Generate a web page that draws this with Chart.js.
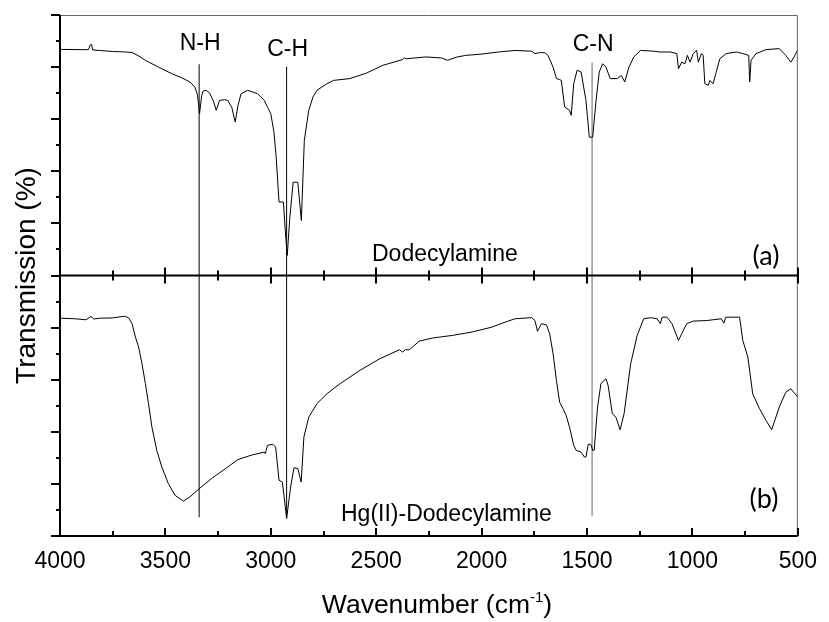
<!DOCTYPE html>
<html>
<head>
<meta charset="utf-8">
<script src="https://cdn.jsdelivr.net/npm/chart.js@4.4.1/dist/chart.umd.min.js"></script>
<style>
  html, body { margin: 0; padding: 0; background: #fff; }
</style>
</head>
<body>
<canvas id="irChart" width="829" height="622"></canvas>
<script>
// (a) Dodecylamine - wavenumber (cm-1) / transmission within the panel (0-100)
const wavenumbersA = [4000, 3900, 3865, 3856, 3850, 3845, 3814, 3750, 3689, 3658, 3625, 3595, 3533, 3470, 3423, 3384,
  3360, 3348, 3338, 3328, 3321, 3306, 3290, 3270, 3259, 3243, 3220, 3204, 3185, 3169, 3155, 3141, 3110, 3063, 3031,
  3015, 3000, 2985, 2975, 2961, 2940, 2932, 2922, 2910, 2894, 2872, 2855, 2841, 2820, 2800, 2781, 2734, 2702, 2624,
  2546, 2468, 2374, 2366, 2358, 2264, 2190, 2162, 2120, 2076, 2000, 1920, 1841, 1763, 1747, 1720, 1700, 1685, 1661,
  1645, 1630, 1622, 1606, 1583, 1575, 1563, 1547, 1528, 1505, 1489, 1473, 1457, 1442, 1426, 1410, 1390, 1356, 1337,
  1321, 1301, 1278, 1246, 1199, 1152, 1105, 1074, 1066, 1051, 1035, 1024, 1011, 996, 980, 972, 957, 949, 941, 925,
  917, 902, 889, 870, 839, 792, 761, 733, 728, 722, 698, 651, 588, 557, 533, 518, 500];
const transmissionA = [86.8, 86.7, 86.7, 88.6, 88.6, 86.6, 86.4, 86.0, 85.8, 85.6, 84.2, 82.6, 80.0, 77.5, 75.9, 74.3,
  72.3, 69.5, 62.1, 69.0, 70.8, 71.1, 70.0, 66.5, 63.4, 67.2, 67.5, 67.2, 64.5, 58.9, 65.5, 69.8, 71.1, 69.8, 67.2,
  64.5, 62.1, 55.0, 46.0, 28.2, 28.2, 18.0, 7.7, 22.0, 35.8, 35.8, 21.1, 51.9, 63.4, 68.5, 71.1, 73.6, 74.9, 75.6,
  77.7, 80.7, 82.9, 83.6, 83.2, 83.9, 83.5, 82.6, 83.8, 84.5, 85.0, 85.8, 86.4, 86.1, 85.2, 85.6, 85.5, 84.5, 80.0,
  75.6, 75.2, 74.9, 64.7, 63.4, 61.5, 73.6, 78.8, 78.1, 67.2, 53.1, 53.1, 67.2, 78.1, 81.3, 80.0, 75.6, 75.6, 76.8,
  74.3, 80.0, 83.9, 86.4, 86.2, 85.8, 85.8, 85.2, 79.4, 81.9, 81.3, 84.5, 81.9, 85.2, 86.4, 81.9, 85.2, 84.5, 73.6, 73.0,
  74.9, 73.6, 77.5, 83.2, 85.2, 85.8, 85.2, 84.5, 74.3, 82.6, 85.2, 86.7, 87.1, 84.5, 81.9, 83.9, 86.7];

// (b) Hg(II)-Dodecylamine
const wavenumbersB = [4000, 3930, 3877, 3853, 3840, 3814, 3752, 3700, 3689, 3673, 3658, 3642, 3627, 3611, 3595, 3580,
  3564, 3541, 3517, 3486, 3454, 3415, 3384, 3339, 3282, 3204, 3157, 3094, 3031, 3026, 3016, 2990, 2977, 2961, 2945,
  2925, 2906, 2890, 2872, 2856, 2843, 2820, 2781, 2734, 2671, 2577, 2484, 2390, 2374, 2362, 2343, 2296, 2233, 2139,
  2045, 1951, 1888, 1841, 1763, 1747, 1735, 1716, 1692, 1677, 1661, 1645, 1630, 1614, 1599, 1583, 1563, 1552, 1528,
  1512, 1505, 1494, 1482, 1473, 1466, 1450, 1434, 1410, 1400, 1380, 1363, 1343, 1324, 1293, 1262, 1231, 1199, 1168,
  1152, 1144, 1121, 1097, 1066, 1051, 1027, 996, 933, 863, 851, 842, 808, 776, 761, 737, 714, 682, 651, 624, 588, 557,
  533, 500];
const transmissionB = [83.6, 83.4, 83.0, 84.3, 83.3, 83.6, 83.7, 84.3, 84.3, 83.6, 81.5, 76.3, 72.5, 66.1, 58.5, 50.8,
  41.8, 32.9, 26.5, 20.1, 15.6, 13.4, 15.0, 18.2, 22.0, 26.5, 29.3, 31.0, 32.2, 31.6, 34.8, 35.2, 34.1, 21.4, 20.7,
  6.7, 18.8, 26.2, 25.9, 20.7, 38.0, 45.6, 50.8, 54.6, 58.5, 63.6, 68.0, 71.5, 70.6, 71.5, 71.5, 74.8, 76.0, 77.0,
  78.3, 80.2, 82.1, 83.4, 83.8, 82.7, 78.6, 81.5, 81.0, 77.6, 70.0, 59.7, 51.4, 48.9, 46.3, 41.8, 34.8, 32.9, 32.2,
  30.3, 30.3, 35.2, 35.2, 32.9, 32.9, 49.5, 58.5, 60.4, 57.8, 47.0, 45.6, 40.8, 47.0, 66.1, 77.0, 83.4, 83.8, 83.4,
  81.5, 84.0, 84.0, 81.5, 75.1, 77.6, 81.5, 82.5, 82.7, 83.4, 81.7, 84.0, 84.0, 84.0, 75.1, 68.7, 54.6, 48.9, 44.4,
  40.8, 49.5, 55.2, 56.5, 53.3];

// marked bands, drawn across both panels (combined scale 0-200)
const peakPositions = [3340, 2925, 1476];
const peakNames = ['N-H', 'C-H', 'C-N'];
const peakTop = [181.1, 180.2, 181.7];
const peakBottom = [7.2, 6.9, 7.8];

const xTickLabels = [4000, 3500, 3000, 2500, 2000, 1500, 1000, 500];
const panelOffsetA = 100; // panel (a) sits above panel (b)

const FONT = "'Liberation Sans', Arial, sans-serif";

const toPoints = (xs, ys, off) => xs.map((x, i) => ({ x: x, y: ys[i] + off }));

const peakDatasets = peakPositions.map((p, i) => ({
  data: [{ x: p, y: peakBottom[i] }, { x: p, y: peakTop[i] }],
  borderColor: i === 2 ? '#666' : '#000',
  borderWidth: 1,
  pointRadius: 0
}));

const framePlugin = {
  id: 'frame',
  afterDatasetsDraw(chart) {
    const { ctx, chartArea: a, scales: { x, y } } = chart;
    const mid = y.getPixelForValue(panelOffsetA);
    ctx.save();

    // thin grey top and right edges
    ctx.strokeStyle = '#666';
    ctx.lineWidth = 1;
    ctx.beginPath();
    ctx.moveTo(a.left, a.top + 0.5); ctx.lineTo(a.right - 0.5, a.top + 0.5);
    ctx.lineTo(a.right - 0.5, a.bottom);
    ctx.stroke();

    // axes
    ctx.strokeStyle = '#000';
    ctx.lineWidth = 2;
    ctx.beginPath();
    ctx.moveTo(a.left, a.top); ctx.lineTo(a.left, a.bottom);
    ctx.moveTo(a.left, a.bottom); ctx.lineTo(a.right, a.bottom);
    ctx.moveTo(a.left, mid); ctx.lineTo(a.right, mid);

    // x ticks (inward), both panels
    x.ticks.forEach(t => {
      const px = Math.round(x.getPixelForValue(t.value));
      const len = t.value % 500 === 0 ? 8 : 5;
      ctx.moveTo(px, a.bottom); ctx.lineTo(px, a.bottom - len);
      ctx.moveTo(px, mid - len); ctx.lineTo(px, mid + len);
    });
    // y ticks (outward)
    y.ticks.forEach(t => {
      const py = Math.round(y.getPixelForValue(t.value));
      const len = t.value % 20 === 0 ? 9 : 4;
      ctx.moveTo(a.left - len, py); ctx.lineTo(a.left, py);
    });
    ctx.stroke();

    // band labels
    ctx.fillStyle = '#000';
    ctx.font = '23px ' + FONT;
    ctx.textAlign = 'center';
    ctx.textBaseline = 'middle';
    const labelY = [44, 49.5, 44.5];
    peakNames.forEach((n, i) => {
      ctx.fillText(n, x.getPixelForValue(peakPositions[i]) + 1, labelY[i]);
    });

    // sample names
    ctx.textAlign = 'left';
    ctx.textBaseline = 'alphabetic';
    ctx.fillText('Dodecylamine', 372, 261);
    ctx.fillText('Hg(II)-Dodecylamine', 341, 521);

    // panel letters
    ctx.font = '27px Lato, sans-serif';
    ctx.textAlign = 'center';
    ctx.textBaseline = 'middle';
    ctx.fillText('(a)', 766, 256);
    ctx.fillText('(b)', 764, 499);

    // x title with superscript
    const big = '26.5px ' + FONT, small = '15px ' + FONT;
    ctx.textAlign = 'left';
    ctx.textBaseline = 'alphabetic';
    ctx.font = big;
    const w1 = ctx.measureText('Wavenumber (cm').width;
    const w3 = ctx.measureText(')').width;
    ctx.font = small;
    const w2 = ctx.measureText('-1').width;
    let sx = 437 - (w1 + w2 + w3) / 2;
    const base = 613;
    ctx.font = big;
    ctx.fillText('Wavenumber (cm', sx, base);
    ctx.font = small;
    ctx.fillText('-1', sx + w1, base - 11);
    ctx.font = big;
    ctx.fillText(')', sx + w1 + w2, base);

    ctx.restore();
  }
};

new Chart(document.getElementById('irChart'), {
  type: 'line',
  data: {
    datasets: [
      {
        data: toPoints(wavenumbersA, transmissionA, panelOffsetA),
        borderColor: '#000', borderWidth: 1, pointRadius: 0, tension: 0
      },
      {
        data: toPoints(wavenumbersB, transmissionB, 0),
        borderColor: '#000', borderWidth: 1, pointRadius: 0, tension: 0
      },
      ...peakDatasets
    ]
  },
  options: {
    responsive: false,
    animation: false,
    layout: { padding: { left: 0, top: 15, right: 24, bottom: 0 } },
    plugins: { legend: { display: false }, tooltip: { enabled: false } },
    scales: {
      x: {
        type: 'linear',
        min: 500, max: 4000,
        reverse: true,
        grid: { display: false, drawTicks: false },
        border: { display: false },
        afterBuildTicks: scale => {
          const ticks = [];
          for (let v = 4000; v >= 500; v -= 250) ticks.push({ value: v });
          scale.ticks = ticks;
        },
        ticks: {
          autoSkip: false, maxRotation: 0, padding: 12, color: '#000',
          font: { family: FONT, size: 23 },
          callback: v => xTickLabels.includes(v) ? String(v) : ''
        },
        afterFit: scale => { scale.height = 86; }
      },
      y: {
        min: 0, max: 200,
        grid: { display: false, drawTicks: false },
        border: { display: false },
        ticks: { display: false, stepSize: 10 },
        title: {
          display: true, text: 'Transmission (%)', color: '#000',
          font: { family: FONT, size: 28 },
          padding: { top: 10, bottom: 0 }
        },
        afterFit: scale => { scale.width = 60; }
      }
    }
  },
  plugins: [framePlugin]
});
</script>
</body>
</html>
